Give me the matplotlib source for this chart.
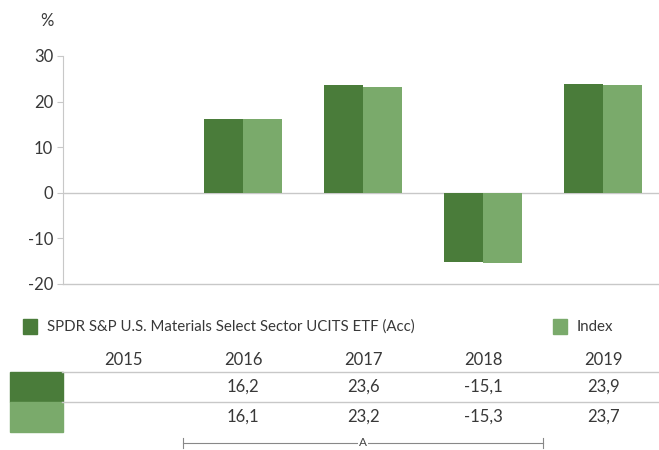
import matplotlib
matplotlib.use("Agg")
import matplotlib.pyplot as plt
from matplotlib.transforms import blended_transform_factory
from matplotlib.patches import Rectangle
import numpy as np

years = ["2015", "2016", "2017", "2018", "2019"]
fund = [np.nan, 16.2, 23.6, -15.1, 23.9]
index = [np.nan, 16.1, 23.2, -15.3, 23.7]
fund_labels = ["", "16,2", "23,6", "-15,1", "23,9"]
index_labels = ["", "16,1", "23,2", "-15,3", "23,7"]
yticks = [30, 20, 10, 0, -10, -20]
series_names = ["SPDR S&P U.S. Materials Select Sector UCITS ETF (Acc)", "Index"]

dark = "#4A7C3A"
light = "#7AAA6B"
grey = "#C8C8C8"
txt = "#383838"
FS = 12
FSL = 10.8

plt.rcParams["font.family"] = ["Lato", "DejaVu Sans"]

W, H = 659, 450
fig = plt.figure(figsize=(W / 100, H / 100), dpi=100)

def fx(p): return p / W
def fy(p): return 1 - p / H

ax_left, ax_right = 63, 663
ax_top, ax_bot = 56, 284
ax = fig.add_axes([fx(ax_left), fy(ax_bot), fx(ax_right - ax_left), (ax_bot - ax_top) / H])
x = np.arange(len(years))
bw = 0.32
ax.bar(x - bw / 2 - 0.004, fund, bw, color=dark)
ax.bar(x + bw / 2 + 0.004, index, bw, color=light)
ax.set_xlim(-0.5, 4.5)
ax.set_ylim(-20, 30)
ax.set_yticks(yticks)
ax.set_yticklabels([str(v) for v in yticks], fontsize=FS, color=txt)
ax.tick_params(axis="y", length=4, color=grey, pad=3)
ax.set_xticks([])
for s in ["top", "right", "bottom"]:
    ax.spines[s].set_visible(False)
ax.spines["left"].set_color(grey)
ax.axhline(0, color=grey, lw=1, zorder=0)
ax.plot([-0.5, 4.5], [-20, -20], color=grey, lw=1, clip_on=False)
fig.text(fx(47), fy(21), "%", fontsize=FS, color=txt, ha="center", va="center")

# legend
fig.patches.append(Rectangle((fx(23), fy(334)), fx(14), 15 / H, color=dark, transform=fig.transFigure))
fig.text(fx(47), fy(327), series_names[0], fontsize=FSL, color=txt, va="center")
fig.patches.append(Rectangle((fx(553), fy(334)), fx(14), 15 / H, color=light, transform=fig.transFigure))
fig.text(fx(577), fy(327), series_names[1], fontsize=FSL, color=txt, va="center")

# table
tr = blended_transform_factory(ax.transData, fig.transFigure)
for i, yr in enumerate(years):
    fig.text(i, fy(360), yr, transform=tr, fontsize=FS, color=txt, ha="center", va="center")
    fig.text(i, fy(387), fund_labels[i], transform=tr, fontsize=FS, color=txt, ha="center", va="center")
    fig.text(i, fy(417), index_labels[i], transform=tr, fontsize=FS, color=txt, ha="center", va="center")
for yy in [372, 402]:
    fig.add_artist(plt.Line2D([fx(62), 1], [fy(yy), fy(yy)], color=grey, lw=1, transform=fig.transFigure))
fig.patches.append(Rectangle((fx(10), fy(402)), fx(53), 30 / H, color=dark, transform=fig.transFigure))
fig.patches.append(Rectangle((fx(10), fy(432)), fx(53), 30 / H, color=light, transform=fig.transFigure))

# bracket
yb = fy(443)
fig.add_artist(plt.Line2D([0.5, 3.5], [yb, yb], color="#888888", lw=0.8, transform=tr))
for xe in [0.5, 3.5]:
    fig.add_artist(plt.Line2D([xe, xe], [yb - 5 / H, yb + 5 / H], color="#888888", lw=0.8, transform=tr))
fig.text(2, yb, "A", transform=tr, fontsize=8.5, color="#444444", ha="center", va="center",
         bbox=dict(facecolor="white", edgecolor="none", pad=0.5))

fig.savefig("out.png", dpi=100)
